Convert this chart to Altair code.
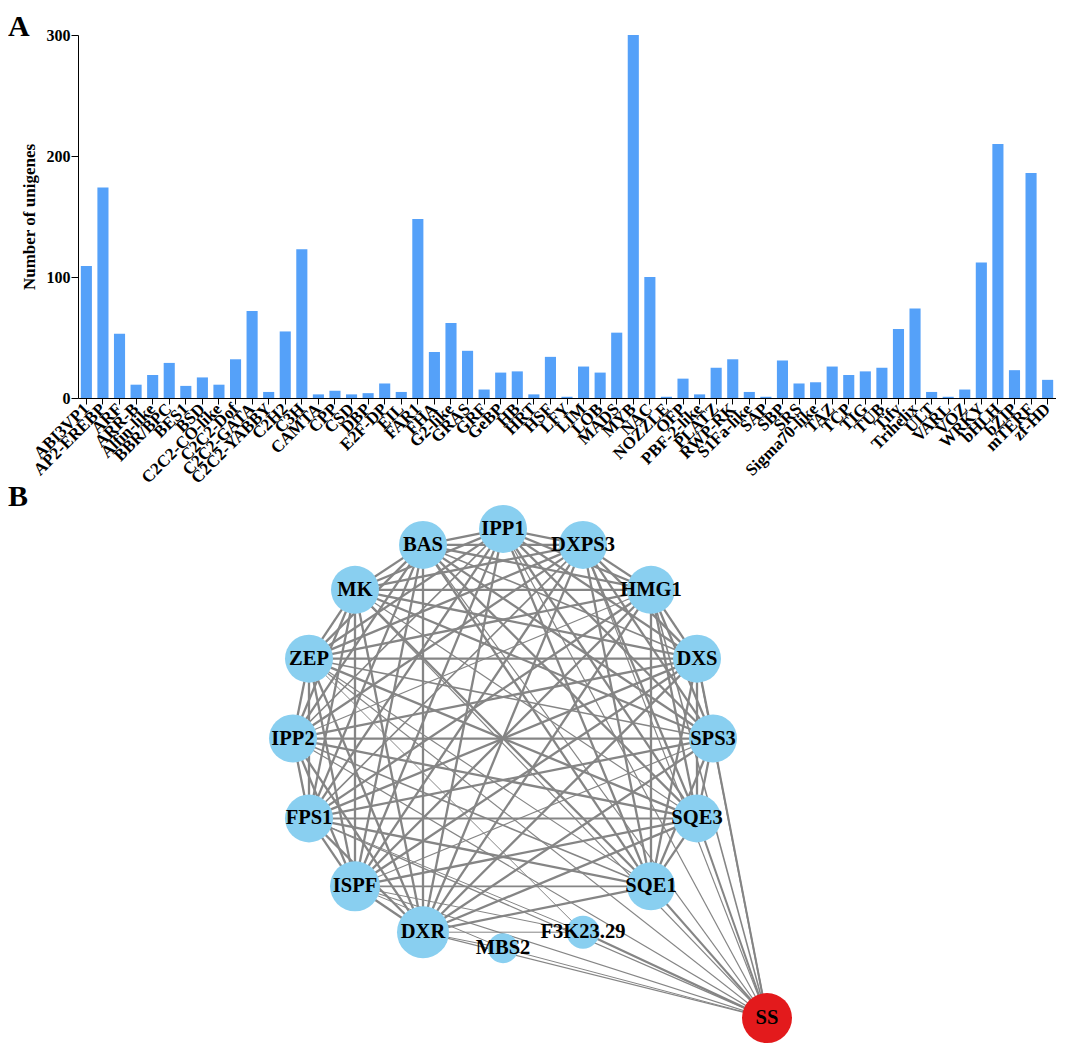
import altair as alt
import pandas as pd

FONT = "Liberation Serif"

# ---------------- Panel A data ----------------
families = [
    "ABI3VP1", "AP2-EREBP", "ARF", "ARR-B", "Alfin-like", "BBR/BPC", "BES1", "BSD",
    "C2C2-CO-like", "C2C2-Dof", "C2C2-GATA", "C2C2-YABBY", "C2H2", "C3H", "CAMTA",
    "CPP", "CSD", "DBP", "E2F-DP", "EIL", "FAR1", "FHA", "G2-like", "GRAS", "GRF",
    "GeBP", "HB", "HRT", "HSF", "LFY", "LIM", "LOB", "MADS", "MYB", "NAC", "NOZZLE",
    "OFP", "PBF-2-like", "PLATZ", "RWP-RK", "S1Fa-like", "SAP", "SBP", "SRS",
    "Sigma70-like", "TAZ", "TCP", "TIG", "TUB", "Tify", "Trihelix", "ULT", "VARL",
    "VOZ", "WRKY", "bHLH", "bZIP", "mTERF", "zf-HD",
]
unigenes = [
    109, 174, 53, 11, 19, 29, 10, 17,
    11, 32, 72, 5, 55, 123, 3,
    6, 3, 4, 12, 5, 148, 38, 62, 39, 7,
    21, 22, 3, 34, 1, 26, 21, 54, 300, 100, 1,
    16, 3, 25, 32, 5, 1, 31, 12,
    13, 26, 19, 22, 25, 57, 74, 5, 1,
    7, 112, 210, 23, 186, 15,
]
y_ticks = [0, 100, 200, 300]

# ---------------- Panel B data ----------------
node_names = ["IPP1", "BAS", "DXPS3", "MK", "HMG1", "ZEP", "DXS", "IPP2", "SPS3",
              "FPS1", "SQE3", "ISPF", "SQE1", "DXR", "F3K23.29", "MBS2", "SS"]
node_x = [0, -80, 80, -148, 148, -194, 194, -210, 210, -194, 194, -148, 148, -80, 80, 0, 264]
node_y = [-210, -194, -194, -149, -149, -80, -80, 0, 0, 80, 80, 148, 148, 194, 194, 210, 280]
node_diam = [48, 48, 48, 48, 48, 48, 48, 48, 48, 48, 48, 50, 48, 52, 33, 30, 50]
node_color = ["#89CFF0"] * 16 + ["#E31A1C"]

edge_list = [
    ("IPP1", "BAS", 2.3), ("IPP1", "DXPS3", 2.3), ("IPP1", "MK", 2.3), ("IPP1", "HMG1", 2.3),
    ("IPP1", "ZEP", 2.3), ("IPP1", "DXS", 2.3), ("IPP1", "IPP2", 1.6), ("IPP1", "SPS3", 2.3),
    ("IPP1", "FPS1", 2.3), ("IPP1", "SQE3", 2.3), ("IPP1", "ISPF", 2.3), ("IPP1", "SQE1", 2.3),
    ("IPP1", "DXR", 2.3),
    ("BAS", "DXPS3", 2.3), ("BAS", "MK", 2.3), ("BAS", "HMG1", 2.3), ("BAS", "ZEP", 2.3),
    ("BAS", "DXS", 1.6), ("BAS", "IPP2", 2.3), ("BAS", "SPS3", 2.3), ("BAS", "FPS1", 2.3),
    ("BAS", "SQE3", 2.3), ("BAS", "ISPF", 2.3), ("BAS", "SQE1", 2.3), ("BAS", "DXR", 2.3),
    ("DXPS3", "MK", 2.3), ("DXPS3", "HMG1", 2.3), ("DXPS3", "ZEP", 2.3), ("DXPS3", "DXS", 2.3),
    ("DXPS3", "IPP2", 2.3), ("DXPS3", "SPS3", 2.3), ("DXPS3", "FPS1", 1.6), ("DXPS3", "SQE3", 2.3),
    ("DXPS3", "ISPF", 2.3), ("DXPS3", "SQE1", 2.3), ("DXPS3", "DXR", 2.3),
    ("MK", "HMG1", 2.3), ("MK", "ZEP", 2.3), ("MK", "DXS", 2.3), ("MK", "IPP2", 2.3),
    ("MK", "SPS3", 2.3), ("MK", "FPS1", 2.3), ("MK", "SQE3", 1.2), ("MK", "ISPF", 2.3),
    ("MK", "SQE1", 2.3), ("MK", "DXR", 2.3),
    ("HMG1", "ZEP", 2.3), ("HMG1", "DXS", 2.3), ("HMG1", "IPP2", 1.2), ("HMG1", "SPS3", 2.3),
    ("HMG1", "FPS1", 2.3), ("HMG1", "SQE3", 2.3), ("HMG1", "ISPF", 2.3), ("HMG1", "SQE1", 2.3),
    ("HMG1", "DXR", 2.3),
    ("ZEP", "DXS", 2.3), ("ZEP", "IPP2", 2.3), ("ZEP", "SPS3", 1.6), ("ZEP", "FPS1", 2.3),
    ("ZEP", "SQE3", 2.3), ("ZEP", "ISPF", 2.3), ("ZEP", "SQE1", 1.2), ("ZEP", "DXR", 2.3),
    ("DXS", "IPP2", 2.3), ("DXS", "SPS3", 2.3), ("DXS", "FPS1", 2.3), ("DXS", "SQE3", 2.3),
    ("DXS", "ISPF", 2.3), ("DXS", "SQE1", 2.3), ("DXS", "DXR", 2.3),
    ("IPP2", "SPS3", 2.3), ("IPP2", "FPS1", 2.3), ("IPP2", "SQE3", 2.3), ("IPP2", "ISPF", 2.3),
    ("IPP2", "SQE1", 1.6), ("IPP2", "DXR", 2.3),
    ("SPS3", "FPS1", 2.3), ("SPS3", "SQE3", 2.3), ("SPS3", "ISPF", 1.2), ("SPS3", "SQE1", 2.3),
    ("SPS3", "DXR", 2.3),
    ("FPS1", "SQE3", 2.0), ("FPS1", "ISPF", 2.3), ("FPS1", "SQE1", 2.3), ("FPS1", "DXR", 2.3),
    ("SQE3", "ISPF", 2.3), ("SQE3", "SQE1", 2.3), ("SQE3", "DXR", 2.3),
    ("ISPF", "SQE1", 1.8), ("ISPF", "DXR", 2.3),
    ("SQE1", "DXR", 2.3),
    ("DXR", "MBS2", 1.0), ("DXR", "F3K23.29", 1.0), ("ISPF", "F3K23.29", 1.0),
    ("FPS1", "F3K23.29", 1.0), ("ZEP", "F3K23.29", 1.0), ("ISPF", "MBS2", 1.0),
    ("SS", "SPS3", 2.0), ("SS", "SQE3", 2.0), ("SS", "SQE1", 2.0), ("SS", "F3K23.29", 2.3),
    ("SS", "DXS", 1.6), ("SS", "HMG1", 1.6), ("SS", "DXPS3", 1.2), ("SS", "IPP1", 1.2),
    ("SS", "BAS", 1.2), ("SS", "MK", 1.2), ("SS", "ZEP", 1.2), ("SS", "IPP2", 1.2),
    ("SS", "FPS1", 1.2), ("SS", "ISPF", 1.2), ("SS", "DXR", 1.2), ("SS", "MBS2", 1.0),
]

# ---------------- Panel A ----------------
bar_df = pd.DataFrame({"family": families, "count": unigenes})

bars = alt.Chart(bar_df).mark_bar(color="#55A1F9").encode(
    x=alt.X(
        "family:N", sort=families, title=None,
        scale=alt.Scale(paddingInner=0.33, paddingOuter=0.17),
        axis=alt.Axis(
            labelAngle=-45, labelAlign="right", labelBaseline="middle",
            labelFont=FONT, labelFontWeight="bold", labelFontSize=17,
            labelColor="black", labelOverlap=False, labelPadding=2,
            tickSize=6, tickColor="black", domainColor="black",
            labelLimit=300,
        ),
    ),
    y=alt.Y(
        "count:Q", title="Number of unigenes",
        scale=alt.Scale(domain=[0, 300], nice=False),
        axis=alt.Axis(
            values=y_ticks, grid=False, labelFont=FONT, labelFontWeight="bold",
            labelFontSize=16, labelColor="black", tickSize=7, tickColor="black",
            domainColor="black", labelPadding=1, titleFont=FONT,
            titleFontWeight="bold", titleFontSize=17, titleColor="black",
            titlePadding=8,
        ),
    ),
)

label_a = alt.Chart(pd.DataFrame({"t": ["A"]})).mark_text(
    font=FONT, fontWeight="bold", fontSize=30, align="left", baseline="top", color="black"
).encode(text="t:N", x=alt.value(-70), y=alt.value(-23))

panel_a = alt.layer(bars, label_a).properties(width=978, height=363)

# ---------------- Panel B ----------------
nodes = pd.DataFrame({
    "name": node_names, "x": node_x, "y": node_y,
    "s": [d * d for d in node_diam], "c": node_color,
})
pos = {n: (x, y) for n, x, y in zip(node_names, node_x, node_y)}
edges = pd.DataFrame({
    "x": [pos[a][0] for a, b, w in edge_list],
    "y": [pos[a][1] for a, b, w in edge_list],
    "x2": [pos[b][0] for a, b, w in edge_list],
    "y2": [pos[b][1] for a, b, w in edge_list],
    "w": [w for a, b, w in edge_list],
})

xs = alt.Scale(domain=[-425, 553], nice=False, zero=False)
ys = alt.Scale(domain=[-258, 306], nice=False, zero=False, reverse=True)

edge_layer = alt.Chart(edges).mark_rule(color="#858585").encode(
    x=alt.X("x:Q", scale=xs, axis=None),
    y=alt.Y("y:Q", scale=ys, axis=None),
    x2="x2:Q", y2="y2:Q",
    strokeWidth=alt.StrokeWidth("w:Q", scale=None),
)
node_layer = alt.Chart(nodes).mark_circle(opacity=1).encode(
    x=alt.X("x:Q", scale=xs, axis=None),
    y=alt.Y("y:Q", scale=ys, axis=None),
    size=alt.Size("s:Q", scale=None),
    color=alt.Color("c:N", scale=None),
)
text_layer = alt.Chart(nodes).mark_text(
    font=FONT, fontWeight="bold", fontSize=20.5, color="black", baseline="middle"
).encode(
    x=alt.X("x:Q", scale=xs, axis=None),
    y=alt.Y("y:Q", scale=ys, axis=None),
    text="name:N",
)
label_b = alt.Chart(pd.DataFrame({"t": ["B"]})).mark_text(
    font=FONT, fontWeight="bold", fontSize=30, align="left", baseline="top", color="black"
).encode(text="t:N", x=alt.value(-70), y=alt.value(1))

panel_b = alt.layer(edge_layer, node_layer, text_layer, label_b).properties(width=978, height=563)

chart = alt.vconcat(panel_a, panel_b, spacing=83, bounds="flush").properties(
    padding={"top": 4, "left": 0, "right": 0, "bottom": 0}, background="white"
).configure_view(stroke=None)

chart.save("out.html", embed_options={"renderer": "svg", "actions": False})
